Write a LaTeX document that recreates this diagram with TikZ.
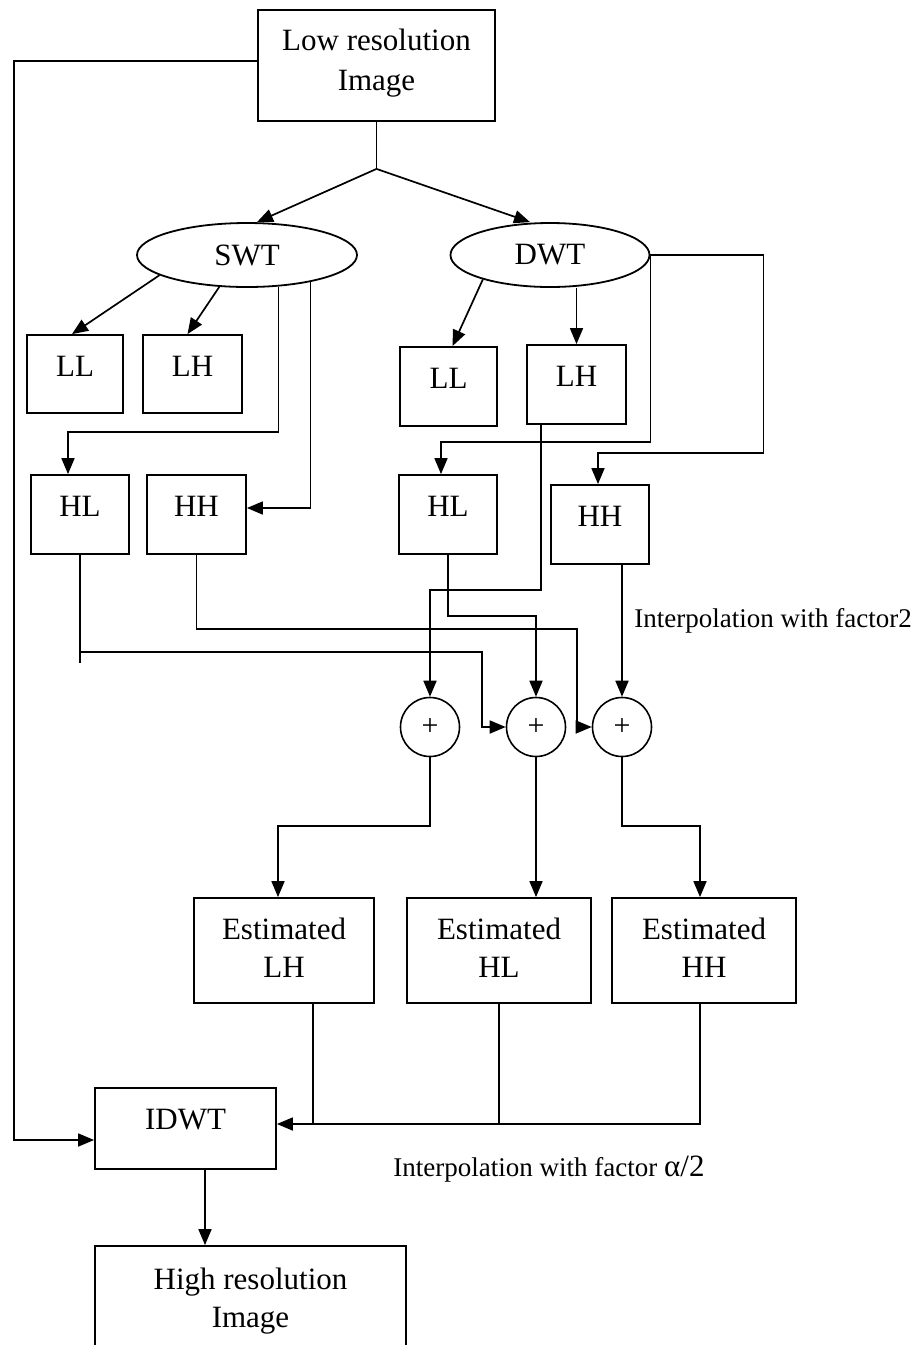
\documentclass[tikz,border=0pt]{standalone}
\usepackage{fontspec}
\setmainfont{Liberation Serif}
\usetikzlibrary{arrows.meta,calc,shapes.geometric}
\begin{document}
\begin{tikzpicture}[x=1pt,y=-1pt,
  every node/.style={font=\fontsize{31}{38}\selectfont},
  box/.style={draw,line width=1.8pt,inner sep=0pt,align=center},
  lift/.style={text depth=#1},
  oval/.style={draw,ellipse,line width=1.8pt,inner sep=0pt},
  sum/.style={draw,circle,line width=1.6pt,minimum size=59pt,inner sep=0pt,font=\fontsize{30}{30}\selectfont},
  conn/.style={line width=1.7pt},
  arr/.style={conn,-{Triangle[length=16pt,width=13pt]}},
  note/.style={font=\fontsize{27}{30}\selectfont}
]
\useasboundingbox (0,0) rectangle (914,1345);
\fill[white] (0,0) rectangle (914,1345);
\clip (0,0) rectangle (914,1345);

% nodes
\node[box,lift=12pt,font=\fontsize{31}{40}\selectfont,minimum width=237pt,minimum height=111pt] (lowres) at (376.5,65.5) {Low resolution\\Image};
\node[oval,minimum width=220pt,minimum height=64pt] (swt) at (247,255) {SWT};
\node[oval,minimum width=199pt,minimum height=64pt] (dwt) at (550,255) {DWT};

\node[box,lift=15pt,minimum width=96pt,minimum height=78pt] (sLL) at (75,374) {LL};
\node[box,lift=15pt,minimum width=99pt,minimum height=78pt] (sLH) at (192.5,374) {LH};
\node[box,lift=17pt,minimum width=98pt,minimum height=79pt] (sHL) at (80,514.5) {HL};
\node[box,lift=17pt,minimum width=99pt,minimum height=79pt] (sHH) at (196.5,514.5) {HH};

\node[box,lift=17pt,minimum width=97pt,minimum height=79pt] (dLL) at (448.5,386.5) {LL};
\node[box,lift=17pt,minimum width=99pt,minimum height=79pt] (dLH) at (576.5,384.5) {LH};
\node[box,lift=17pt,minimum width=98pt,minimum height=79pt] (dHL) at (448,514.5) {HL};
\node[box,lift=17pt,minimum width=98pt,minimum height=79pt] (dHH) at (600,524.5) {HH};

\node[sum] (c1) at (430,727) {+};
\node[sum] (c2) at (536,727) {+};
\node[sum] (c3) at (622,727) {+};

\node[box,lift=6pt,minimum width=180pt,minimum height=105pt] (eLH) at (284,950.5) {Estimated\\LH};
\node[box,lift=6pt,minimum width=184pt,minimum height=105pt] (eHL) at (499,950.5) {Estimated\\HL};
\node[box,lift=6pt,minimum width=184pt,minimum height=105pt] (eHH) at (704,950.5) {Estimated\\HH};

\node[box,lift=19pt,minimum width=181pt,minimum height=81pt] (idwt) at (185.5,1128.5) {IDWT};
\node[box,minimum width=311pt,minimum height=110pt] (hires) at (250.5,1301) {High resolution\\Image};

\node[note] (lab1) at (773,621) {Interpolation with factor2};
\node[note] (lab2) at (549,1169) {Interpolation with factor {\fontsize{31}{30}\selectfont α/2}};

% connectors
\coordinate (j) at ($(lowres.south)+(0,47)$);
\draw[conn] (lowres.south) -- (j);
\draw[arr] (j) -- ($(swt.north)+(10,0)$);
\draw[arr] (j) -- ($(dwt.north)+(-20,0)$);

\draw[arr] ($(lowres.west)+(0,-4.5)$) -- ++(-243,0) |- ($(idwt.west)+(0,11.5)$);

\draw[arr] (swt.193) -- ($(sLL.north)+(-3,0)$);
\draw[arr] (swt.229) -- ($(sLH.north)+(-5,0)$);
\draw[arr] (swt.315) |- ($(sHL.north)+(-12,-42)$) -- ($(sHL.north)+(-12,0)$);
\draw[arr] (swt.337) |- ($(sHH.east)+(0,-6.5)$);

\draw[arr] (dwt.200) -- ($(dLL.north)+(4,0)$);
\draw[arr] (dLH.north |- dwt.south) -- (dLH.north);
\draw[arr] (dwt.east) -- ++(0,187) -| ($(dHL.north)+(-7,0)$);
\draw[arr] (dwt.east) -- ++(113,0) -- ++(0,198) -| ($(dHH.north)+(-2,0)$);

\draw[conn] (sHL.south) -- ++(0,108);
\draw[arr] ($(sHL.south)+(0,97)$) -| ($(c2.west)+(-24,0)$) -- (c2.west);
\draw[arr] (sHH.south) -- ++(0,74) -| ($(c3.west)+(-15,0)$) -- (c3.west);
\draw[arr] ($(dLH.south)+(-35.5,0)$) -- ++(0,165) -| (c1.north);
\draw[arr] (dHL.south) -- ++(0,61) -| (c2.north);
\draw[arr] (c3.north |- dHH.south) -- (c3.north);

\draw[arr] (c1.south) -- ++(0,69) -| ($(eLH.north)+(-6,0)$);
\draw[arr] (c2.south) -- (c2.south |- eHL.north);
\draw[arr] (c3.south) -- ++(0,69) -| ($(eHH.north)+(-4,0)$);

\draw[arr] ($(eHH.south)+(-4,0)$) |- ($(idwt.east)+(0,-4.5)$);
\draw[conn] (eHL.south) -- ($(eHL.south |- idwt.east)+(0,-4.5)$);
\draw[conn] ($(eLH.south)+(29,0)$) -- ++(0,121);

\coordinate (o) at ($(idwt.south)+(19.5,0)$);
\draw[arr] (o) -- (o |- hires.north);
\end{tikzpicture}
\end{document}
